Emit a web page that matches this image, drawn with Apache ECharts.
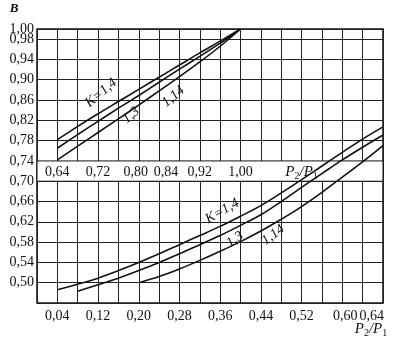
<!DOCTYPE html>
<html>
<head>
<meta charset="utf-8">
<script src="https://cdn.jsdelivr.net/npm/echarts@6/dist/echarts.min.js"></script>
<style>
  html, body { margin: 0; padding: 0; background: #fff; }
  #chart { width: 393px; height: 339px; }
</style>
</head>
<body>
<div id="chart"></div>
<script>
// Tick labels
const lowerTickLabels = [0.04, 0.12, 0.20, 0.28, 0.36, 0.44, 0.52, 0.60, 0.64];
const upperTickLabels = [0.64, 0.72, 0.80, 0.84, 0.92, 1.00];
const yTickLabels = [0.50, 0.54, 0.58, 0.62, 0.66, 0.70, 0.74, 0.78, 0.82, 0.86, 0.90, 0.94, 1.00];
const yFineLabels = [0.98];

// Upper branch: P2/P1 from 0.64 to 1.00 (upper scale)
const upperX    = [0.64, 0.68, 0.72, 0.76, 0.80, 0.84, 0.88, 0.92, 0.96, 1.00];
const upperK14  = [0.782, 0.808, 0.833, 0.857, 0.881, 0.905, 0.929, 0.953, 0.976, 1.000];
const upperK13  = [0.765, 0.792, 0.818, 0.844, 0.869, 0.895, 0.921, 0.946, 0.972, 1.000];
const upperK114 = [0.742, 0.769, 0.796, 0.823, 0.850, 0.878, 0.906, 0.935, 0.966, 1.000];

// Lower branch: P2/P1 from 0.04 to 0.68 (bottom scale)
const lowerXK14  = [0.04, 0.08, 0.12, 0.16, 0.20, 0.24, 0.28, 0.32, 0.36, 0.40, 0.44, 0.48, 0.52, 0.56, 0.60, 0.64, 0.68];
const lowerK14   = [0.486, 0.497, 0.509, 0.524, 0.540, 0.557, 0.575, 0.593, 0.611, 0.631, 0.652, 0.677, 0.703, 0.730, 0.757, 0.783, 0.807];
const lowerXK13  = [0.08, 0.12, 0.16, 0.20, 0.24, 0.28, 0.32, 0.36, 0.40, 0.44, 0.48, 0.52, 0.56, 0.60, 0.64, 0.68];
const lowerK13   = [0.483, 0.496, 0.509, 0.524, 0.540, 0.557, 0.575, 0.593, 0.613, 0.634, 0.660, 0.688, 0.715, 0.742, 0.767, 0.791];
const lowerXK114 = [0.20, 0.24, 0.28, 0.32, 0.36, 0.40, 0.44, 0.48, 0.52, 0.56, 0.60, 0.64, 0.68];
const lowerK114  = [0.500, 0.512, 0.527, 0.544, 0.562, 0.581, 0.602, 0.625, 0.650, 0.678, 0.708, 0.738, 0.770];

const FONT = 'Liberation Serif';
const INK = '#111';
const fmt = v => v.toFixed(2).replace('.', ',');
const r2 = v => Math.round(v * 100);
const has = (list, v) => list.some(t => r2(t) === r2(v));
const pairs = (xs, ys) => xs.map((x, i) => [x, ys[i]]);

function curve(name, xs, ys, axis) {
  return {
    name, type: 'line', xAxisIndex: axis, yAxisIndex: 0,
    data: pairs(xs, ys), smooth: 0.3, symbol: 'none', z: 5,
    lineStyle: { color: INK, width: 1.6 }, silent: true
  };
}

const chart = echarts.init(document.getElementById('chart'), null, { renderer: 'canvas' });

const baseLabel = { fontFamily: FONT, fontSize: 14, color: INK };

chart.setOption({
  animation: false,
  backgroundColor: '#fff',
  grid: { left: 37, right: 10, top: 29, bottom: 36, show: true, borderColor: INK, borderWidth: 1.5, outerBoundsMode: 'none' },
  xAxis: [
    {
      type: 'value', position: 'bottom', min: 0, max: 0.68, interval: 0.04,
      axisLine: { show: false }, axisTick: { show: false },
      splitLine: { show: true, lineStyle: { color: '#222', width: 1 } },
      axisLabel: Object.assign({}, baseLabel, {
        margin: 6, showMinLabel: true, showMaxLabel: true,
        formatter: v => {
          if (!has(lowerTickLabels, v)) return '';
          if (r2(v) === 64) return '{r|' + fmt(v) + '}';
          if (r2(v) === 60) return '{q|' + fmt(v) + '}';
          return fmt(v);
        },
        rich: {
          r: { fontFamily: FONT, fontSize: 14, color: INK, padding: [0, 0, 0, 18] },
          q: { fontFamily: FONT, fontSize: 14, color: INK, padding: [0, 0, 0, 6] }
        }
      })
    },
    {
      // upper scale, printed inside the white strip between 0,74 and 0,70
      type: 'value', position: 'bottom', offset: -141, z: 10,
      min: 0.60, max: 1.28, interval: 0.04,
      axisLine: { show: false }, axisTick: { show: false }, splitLine: { show: false },
      axisLabel: Object.assign({}, baseLabel, {
        margin: 3, hideOverlap: false,
        formatter: v => {
          if (!has(upperTickLabels, v)) return '';
          if (r2(v) === 80) return '{l|' + fmt(v) + '}';
          if (r2(v) === 84) return '{r|' + fmt(v) + '}';
          return fmt(v);
        },
        rich: {
          l: { fontFamily: FONT, fontSize: 14, color: INK, padding: [0, 6, 0, 0] },
          r: { fontFamily: FONT, fontSize: 14, color: INK, padding: [0, 0, 0, 14] }
        }
      })
    }
  ],
  yAxis: [
    {
      type: 'value', min: 0.46, max: 1.00, interval: 0.04,
      axisLine: { show: false }, axisTick: { show: false },
      splitLine: { show: true, lineStyle: { color: '#222', width: 1 } },
      axisLabel: Object.assign({}, baseLabel, {
        margin: 3, hideOverlap: false, showMaxLabel: true,
        formatter: v => has(yTickLabels, v) ? fmt(v) : ''
      })
    },
    {
      // finer scale carrying the 0,98 label next to the top edge
      type: 'value', position: 'left', min: 0.46, max: 1.00, interval: 0.02,
      axisLine: { show: false }, axisTick: { show: false }, splitLine: { show: false },
      axisLabel: Object.assign({}, baseLabel, {
        margin: 3, hideOverlap: false, showMaxLabel: false,
        formatter: v => has(yFineLabels, v) ? fmt(v) : ''
      })
    }
  ],
  series: [
    {
      // white strip carrying the upper scale labels
      type: 'line', data: [], xAxisIndex: 0, yAxisIndex: 0, z: 2, silent: true,
      markArea: {
        silent: true,
        itemStyle: { color: '#fff', borderColor: INK, borderWidth: 1 },
        data: [[{ yAxis: 0.70 }, { yAxis: 0.74 }]]
      }
    },
    curve('K=1,4 (upper)', upperX, upperK14, 1),
    curve('K=1,3 (upper)', upperX, upperK13, 1),
    curve('K=1,14 (upper)', upperX, upperK114, 1),
    curve('K=1,4', lowerXK14, lowerK14, 0),
    curve('K=1,3', lowerXK13, lowerK13, 0),
    curve('K=1,14', lowerXK114, lowerK114, 0)
  ]
});

// Curve captions, anchored in data units of the matching scale
const curveNotes = [
  { text: 'K=1,4', axis: 1, at: [0.726, 0.874], rot: 40 },
  { text: '1,3',   axis: 1, at: [0.785, 0.830], rot: 40 },
  { text: '1,14',  axis: 1, at: [0.868, 0.867], rot: 40 },
  { text: 'K=1,4', axis: 0, at: [0.364, 0.641], rot: 30 },
  { text: '1,3',   axis: 0, at: [0.389, 0.585], rot: 35 },
  { text: '1,14',  axis: 0, at: [0.464, 0.594], rot: 37 }
];

const graphics = curveNotes.map(n => {
  const p = chart.convertToPixel({ xAxisIndex: n.axis, yAxisIndex: 0 }, n.at);
  return {
    type: 'text', x: p[0], y: p[1], rotation: n.rot * Math.PI / 180, z: 20,
    style: { text: n.text, fontFamily: FONT, fontSize: 14, fontStyle: 'italic', fill: INK, align: 'center', verticalAlign: 'middle' }
  };
});

const ratioStyle = {
  text: 'P{s|2}/P{s|1}', fontFamily: FONT, fontSize: 15, fontStyle: 'italic', fill: INK,
  align: 'center', verticalAlign: 'middle',
  rich: { s: { fontFamily: FONT, fontSize: 10, fontStyle: 'normal', fill: INK, padding: [9, 0, 0, 0] } }
};
const upperName = chart.convertToPixel({ xAxisIndex: 1, yAxisIndex: 0 }, [1.12, 0.72]);
graphics.push({ type: 'text', x: upperName[0], y: upperName[1] + 1, z: 20, style: Object.assign({}, ratioStyle) });
graphics.push({ type: 'text', x: 371, y: 329, z: 20, style: Object.assign({}, ratioStyle) });
graphics.push({
  type: 'text', x: 14, y: 9, z: 20,
  style: { text: 'B', fontFamily: FONT, fontSize: 13, fontStyle: 'italic', fontWeight: 'bold', fill: INK, align: 'center', verticalAlign: 'middle' }
});

chart.setOption({ graphic: graphics });
</script>
</body>
</html>
